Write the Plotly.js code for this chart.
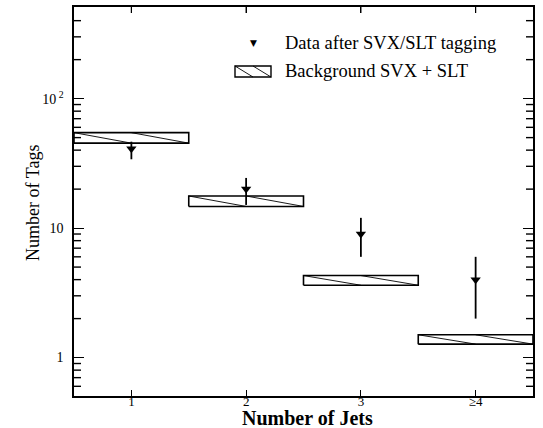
<!DOCTYPE html>
<html>
<head>
<meta charset="utf-8">
<script src="https://cdn.plot.ly/plotly-3.0.1.min.js"></script>
<style>html,body{margin:0;padding:0;background:#fff;}#chart{width:543px;height:428px;}</style>
</head>
<body>
<div id="chart"></div>
<script>
// ---- data ----
const jetLabels = ["1", "2", "3", "\u2265" + "4"];
const jetPos = [1, 2, 3, 4];
const dataTags = [41, 20, 9, 4];
const dataErrUp = [5.5, 4.4, 3, 2];
const dataErrDown = [7, 4.9, 3, 2];
const bkgLow = [45.3, 14.7, 3.62, 1.27];
const bkgHigh = [54.6, 17.7, 4.3, 1.5];
const yTickVals = [1, 10, 100];
const yTickText = ["1", "10", "10<sup> 2</sup>"];
const yMinorVals = [0.6, 0.7, 0.8, 0.9, 2, 3, 4, 5, 6, 7, 8, 9, 20, 30, 40, 50, 60, 70, 80, 90, 200, 300, 400];

// ---- build box outlines and hatch lines from the data ----
const boxX = [], boxY = [], hatchX = [], hatchY = [];
jetPos.forEach((p, i) => {
  const x0 = p - 0.5, x1 = p + 0.5, xm = p;
  boxX.push(x0, x1, x1, x0, x0, null);
  boxY.push(bkgLow[i], bkgLow[i], bkgHigh[i], bkgHigh[i], bkgLow[i], null);
  hatchX.push(x0, xm, null, xm, x1, null);
  hatchY.push(bkgHigh[i], bkgLow[i], null, bkgHigh[i], bkgLow[i], null);
});

const serif = "Liberation Serif, Times New Roman, serif";
const yRange = [Math.log10(0.505), Math.log10(510)];
const xRange = [0.5, 4.5];

const traces = [
  {
    type: "scatter", mode: "lines", x: boxX, y: boxY,
    fill: "toself", fillcolor: "#ffffff",
    line: {color: "#000", width: 1.6}, hoverinfo: "skip", showlegend: false
  },
  {
    type: "scatter", mode: "lines", x: hatchX, y: hatchY,
    line: {color: "#000", width: 0.9}, hoverinfo: "skip", showlegend: false
  },
  {
    type: "scatter", mode: "markers", x: jetPos, y: dataTags,
    marker: {symbol: "triangle-down", size: 9, color: "#000"},
    error_y: {type: "data", symmetric: false, array: dataErrUp, arrayminus: dataErrDown,
              width: 0, thickness: 1.8, color: "#000"},
    showlegend: false
  }
];

const L = 74, R = 533, T = 7, B = 396;
const W = R - L, H = B - T;
const px = x => (x - L) / W;
const py = y => 1 - (y - T) / H;

// tick-mark decorations: minor y ticks on both sides, mirrored x ticks on top
const tickShapes = [];
yMinorVals.forEach(v => {
  tickShapes.push({type: "line", layer: "above", xref: "paper", yref: "y", x0: 0, x1: 7 / W, y0: v, y1: v,
                   line: {color: "#000", width: 1.4}});
  tickShapes.push({type: "line", layer: "above", xref: "paper", yref: "y", x0: 1, x1: 1 - 7 / W, y0: v, y1: v,
                   line: {color: "#000", width: 1.4}});
});
jetPos.forEach(p => {
  tickShapes.push({type: "line", layer: "above", xref: "x", yref: "paper", x0: p, x1: p, y0: 1, y1: 1 - 6 / H,
                   line: {color: "#000", width: 1.2}});
});

const layout = {
  width: 543, height: 428,
  margin: {l: L, r: 543 - R, t: T, b: 428 - B},
  paper_bgcolor: "#fff", plot_bgcolor: "#fff",
  showlegend: false,
  font: {family: serif, color: "#000", size: 14},
  xaxis: {
    range: xRange, tickmode: "array", tickvals: jetPos, ticktext: jetLabels,
    ticks: "inside", ticklen: 6, tickwidth: 1.2, tickcolor: "#000",
    showline: true, linecolor: "#000", linewidth: 1.6, mirror: "ticks",
    showgrid: false, zeroline: false, ticklabelstandoff: -7,
    tickfont: {family: serif, size: 13, color: "#000"}
  },
  yaxis: {
    type: "log", range: yRange,
    tickmode: "array", tickvals: yTickVals, ticktext: yTickText,
    ticks: "inside", ticklen: 10, tickwidth: 1.2, tickcolor: "#000",
    showline: true, linecolor: "#000", linewidth: 1.6, mirror: "ticks",
    showgrid: false, zeroline: false, ticklabelstandoff: 6,
    tickfont: {family: serif, size: 14, color: "#000"}
  },
  annotations: [
    {xref: "paper", yref: "paper", x: px(307), y: py(418), text: "<b>Number of Jets</b>",
     showarrow: false, xanchor: "center", yanchor: "middle",
     font: {family: serif, size: 20, color: "#000"}},
    {xref: "paper", yref: "paper", x: px(33), y: py(203), text: "Number of Tags",
     showarrow: false, textangle: -90, xanchor: "center", yanchor: "middle",
     font: {family: serif, size: 18, color: "#000"}},
    {xref: "paper", yref: "paper", x: px(283), y: py(43), text: "Data after SVX/SLT tagging",
     showarrow: false, xanchor: "left", yanchor: "middle",
     font: {family: serif, size: 18.5, color: "#000"}},
    {xref: "paper", yref: "paper", x: px(253), y: py(43), text: "\u25BC",
     showarrow: false, xanchor: "center", yanchor: "middle",
     font: {family: "DejaVu Sans", size: 9, color: "#000"}},
    {xref: "paper", yref: "paper", x: px(283), y: py(71), text: "Background SVX + SLT",
     showarrow: false, xanchor: "left", yanchor: "middle",
     font: {family: serif, size: 18.5, color: "#000"}}
  ],
  shapes: tickShapes.concat([
    {type: "rect", xref: "paper", yref: "paper", x0: px(235), x1: px(271), y0: py(66), y1: py(77),
     line: {color: "#000", width: 1.4}, fillcolor: "#fff"},
    {type: "path", xref: "paper", yref: "paper",
     path: `M ${px(235)} ${py(66)} L ${px(253)} ${py(77)} M ${px(253)} ${py(66)} L ${px(271)} ${py(77)}`,
     line: {color: "#000", width: 0.9}}
  ])
};

Plotly.newPlot("chart", traces, layout, {staticPlot: true, displayModeBar: false});
</script>
</body>
</html>
